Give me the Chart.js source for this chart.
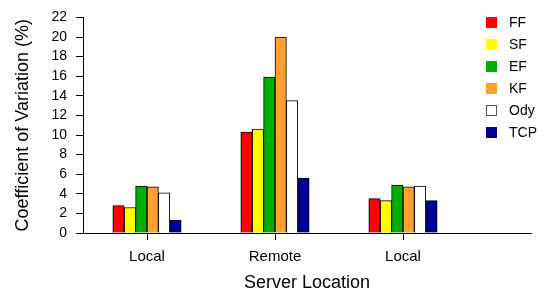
<!DOCTYPE html>
<html>
<head>
<meta charset="utf-8">
<script src="https://cdn.jsdelivr.net/npm/chart.js@4"></script>
<style>
  html, body { margin: 0; padding: 0; background: #fff; }
  #wrap { width: 549px; height: 294px; }
</style>
</head>
<body>
<div id="wrap"><canvas id="cvChart" width="549" height="294"></canvas></div>
<script>
const categories = ['Local', 'Remote', 'Local'];
const seriesNames = ['FF', 'SF', 'EF', 'KF', 'Ody', 'TCP'];
const ffValues = [2.8, 10.3, 3.5];
const sfValues = [2.6, 10.6, 3.3];
const efValues = [4.8, 15.9, 4.9];
const kfValues = [4.7, 20.0, 4.7];
const odyValues = [4.1, 13.5, 4.8];
const tcpValues = [1.3, 5.6, 3.3];
const yTicks = [0, 2, 4, 6, 8, 10, 12, 14, 16, 18, 20, 22];

const colors = ['#FF0000', '#FFFF00', '#00B000', '#FFA030', '#FFFFFF', '#000099'];
const FONT = "'Liberation Sans', Arial, Helvetica, sans-serif";

// categories sit at 1, 2, 3 on a linear axis that runs on to 4 (room for the legend)
const positions = categories.map((c, i) => i + 1);

const allValues = [ffValues, sfValues, efValues, kfValues, odyValues, tcpValues];
const datasets = seriesNames.map((name, i) => ({
  label: name,
  data: allValues[i],
  backgroundColor: colors[i],
  borderColor: '#000',
  borderWidth: 1,
  borderSkipped: 'bottom',
  barThickness: 11.4
}));

// simple legend drawn over the plot, top right
const cornerLegend = {
  id: 'cornerLegend',
  afterDraw(chart, args, opts) {
    const ctx = chart.ctx;
    ctx.save();
    ctx.font = '14px ' + FONT;
    ctx.textBaseline = 'middle';
    ctx.textAlign = 'left';
    chart.data.datasets.forEach((ds, i) => {
      const cy = opts.top + i * opts.rowGap;
      ctx.fillStyle = ds.backgroundColor;
      ctx.fillRect(opts.left, cy - 5.5, 11, 11);
      if (ds.backgroundColor === '#FFFFFF') {
        ctx.strokeStyle = '#555';
        ctx.lineWidth = 1;
        ctx.strokeRect(opts.left + 0.5, cy - 5, 10, 10);
      }
      ctx.fillStyle = '#000';
      ctx.fillText(ds.label, opts.left + 23, cy + 1);
    });
    ctx.restore();
  }
};

new Chart(document.getElementById('cvChart'), {
  type: 'bar',
  data: { labels: positions, datasets: datasets },
  plugins: [cornerLegend],
  options: {
    responsive: false,
    animation: false,
    layout: { padding: { left: 0, right: 18, top: 10, bottom: 0 } },
    plugins: {
      legend: { display: false },
      tooltip: { enabled: false },
      cornerLegend: { left: 486, top: 22.5, rowGap: 22 }
    },
    scales: {
      x: {
        type: 'linear',
        min: 0.5,
        max: 4,
        offset: false,
        afterBuildTicks: (scale) => { scale.ticks = positions.map(v => ({ value: v })); },
        afterFit: (scale) => { scale.height = 61; },
        ticks: {
          color: '#000',
          font: { family: FONT, size: 15 },
          padding: 8,
          autoSkip: false,
          maxRotation: 0,
          callback: (v) => categories[v - 1]
        },
        grid: { offset: false, drawOnChartArea: false, drawTicks: true, tickLength: 7, tickColor: '#000' },
        border: { color: '#000', width: 1 },
        title: {
          display: true,
          text: 'Server Location',
          color: '#000',
          font: { family: FONT, size: 18, lineHeight: 1 },
          padding: { top: 2, bottom: 2 }
        }
      },
      y: {
        min: 0,
        max: 22,
        afterBuildTicks: (scale) => { scale.ticks = yTicks.map(v => ({ value: v })); },
        afterFit: (scale) => { scale.width = 83; },
        ticks: {
          color: '#000',
          font: { family: FONT, size: 14 },
          padding: 9,
          autoSkip: false
        },
        grid: { drawOnChartArea: false, drawTicks: true, tickLength: 7, tickColor: '#000' },
        border: { color: '#000', width: 1 },
        title: {
          display: true,
          text: 'Coefficient of Variation (%)',
          color: '#000',
          font: { family: FONT, size: 18 },
          padding: { top: 12, bottom: 2 }
        }
      }
    }
  }
});
</script>
</body>
</html>
